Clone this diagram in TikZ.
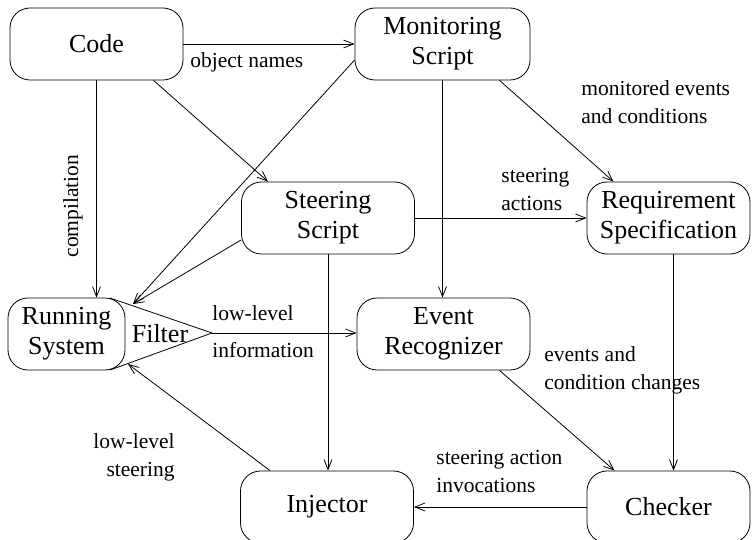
\documentclass[tikz,border=0pt]{standalone}
\usepackage{fontspec}
\setmainfont{Liberation Serif}
\usetikzlibrary{arrows.meta,calc}
\newcommand{\bxfont}{\fontsize{26}{30}\selectfont}
\newcommand{\lbfont}{\fontsize{21.5}{28}\selectfont}

\begin{document}
\begin{tikzpicture}[x=1pt,y=1pt,yscale=-1,xscale=1,
        >={Straight Barb[length=10pt,width=8pt]},
        line width=0.8pt,
        box/.style={draw, rounded corners=20pt, minimum width=173pt, minimum height=72pt, inner sep=0pt, align=center, font=\bxfont},
        lbl/.style={inner sep=0pt, align=left, font=\lbfont}]
        \useasboundingbox (0,0) rectangle (752,540);
        
        %Shape: Rounded boxes
        \node[box] (code) at (96.5,44) {Code};
        \node[box, minimum width=175pt] (mon) at (442.5,44) {Monitoring\\Script};
        \node[box] (steer) at (328,218) {Steering\\Script};
        \node[box, minimum width=163pt] (req) at (668.5,218) {Requirement\\Specification};
        \node[box, minimum width=117pt] (run) at (66.5,334) {Running\\System};
        \node[box] (ev) at (443.5,334) {Event\\Recognizer};
        \node[box] (inj) at (327,507) {Injector};
        \node[box, minimum width=163pt] (chk) at (668.5,507) {Checker};
        
        %Shape: Filter triangle
        \coordinate (ftop) at (110,298);
        \coordinate (ftip) at (212,333);
        \coordinate (fbot) at (110,370);
        \coordinate (fin) at (133,304);
        \coordinate (fout) at (128,364);
        \draw (ftop) -- (ftip) -- (fbot);
        \node[font=\bxfont, inner sep=0pt] (filter) at (160,334) {Filter};
        
        %Connectors
        \draw[->] (code) -- (mon);
        \draw[->] (code.south) -- (code.south |- run.north);
        \draw[->] ([xshift=57pt]code.south) -- ([xshift=-60pt]steer.north);
        \draw[->] ($(mon.west)+(0,16)$) -- (fin);
        \draw[->] ($(steer.west)+(0,22)$) -- (fin);
        \draw[->] (mon.south) -- (mon.south |- ev.north);
        \draw[->] ([xshift=57pt]mon.south) -- ([xshift=-55pt]req.north);
        \draw[->] (steer) -- (req);
        \draw[->] (steer.south) -- (steer.south |- inj.north);
        \draw[->] (ftip) -- (ftip -| ev.west);
        \draw[->] ([xshift=56pt]ev.south) -- ([xshift=-54pt]chk.north);
        \draw[->] ([xshift=5pt]req.south) -- ([xshift=5pt]chk.north);
        \draw[->] (chk) -- (inj);
        \draw[->] ([xshift=-57pt]inj.north) -- (fout);
        
        % Text Node
        \node[lbl, anchor=west] (lobj) at (190,62) {object names};
        % Text Node
        \node[lbl, rotate=90] (lcomp) at (73,206) {compilation};
        % Text Node
        \node[lbl, anchor=west] (lmon) at (581,102) {monitored events\\and conditions};
        % Text Node
        \node[lbl, anchor=west] (lsact) at (501,189) {steering\\actions};
        % Text Node
        \node[lbl, anchor=west] (llow) at (212,313) {low-level};
        % Text Node
        \node[lbl, anchor=west] (linfo) at (212,350) {information};
        % Text Node
        \node[lbl, anchor=west] (lev) at (544,370) {events and\\condition changes};
        % Text Node
        \node[lbl, anchor=west] (linv) at (436,471) {steering action\\invocations};
        % Text Node
        \node[lbl, anchor=east, align=right] (lsteer) at (175,457) {low-level\\steering};
        
        \end{tikzpicture}
\end{document}
